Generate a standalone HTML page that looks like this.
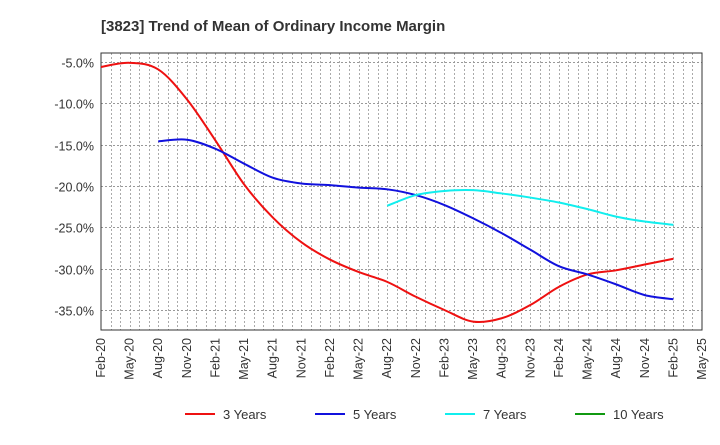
<!DOCTYPE html>
<html><head><meta charset="utf-8"><style>
body{margin:0;background:#fff;font-family:"Liberation Sans",Arial,sans-serif;}
svg text{font-family:"Liberation Sans",Arial,sans-serif;}
</style></head><body>
<svg id="c" width="720" height="440" xmlns="http://www.w3.org/2000/svg">
<text x="101" y="31" font-size="15" font-weight="bold" fill="#333">[3823]  Trend of Mean of Ordinary Income Margin</text>
<g id="grid"></g>
<g id="axes"></g>
<g id="series"></g>
<g id="legend"></g>
</svg>
<script>
const xLabels=["Feb-20","May-20","Aug-20","Nov-20","Feb-21","May-21","Aug-21","Nov-21","Feb-22","May-22","Aug-22","Nov-22","Feb-23","May-23","Aug-23","Nov-23","Feb-24","May-24","Aug-24","Nov-24","Feb-25","May-25"];
const yTicks=[-5,-10,-15,-20,-25,-30,-35];
const s3=[-5.6,-5.1,-5.9,-9.5,-14.5,-19.8,-23.8,-26.8,-28.9,-30.4,-31.6,-33.4,-35.0,-36.4,-36.0,-34.4,-32.2,-30.7,-30.2,-29.5,-28.8];
const s5=[null,null,-14.6,-14.4,-15.5,-17.3,-19.0,-19.7,-19.9,-20.2,-20.4,-21.1,-22.3,-23.9,-25.7,-27.7,-29.7,-30.7,-31.9,-33.2,-33.7];
const s7=[null,null,null,null,null,null,null,null,null,null,-22.4,-21.1,-20.6,-20.5,-20.9,-21.4,-22.0,-22.8,-23.7,-24.3,-24.7];
const s10=[];
const L=101,R=702,T=53,B=330;
const X=i=>L+(R-L)*i/21;
const Y=v=>62+(v+5)*(-248/30);
const NS="http://www.w3.org/2000/svg";
function mk(t,a,p){const e=document.createElementNS(NS,t);for(const k in a)e.setAttribute(k,a[k]);p.appendChild(e);return e;}
const g=document.getElementById('grid'),ax=document.getElementById('axes'),se=document.getElementById('series'),lg=document.getElementById('legend');
for(let m=1;m<63;m++){const x=Math.round(L+(R-L)*m/63)+0.5;const l=mk('line',{x1:x,x2:x,y1:T,y2:B,stroke:'#aaa','stroke-dasharray':'2,2','stroke-width':1},g);

}
yTicks.forEach(v=>{const y=Math.round(Y(v))+0.5;const l=mk('line',{x1:L,x2:R,y1:y,y2:y,stroke:'#999','stroke-dasharray':'2,2'},g);


const t=mk('text',{x:L-7,y:y+5,'text-anchor':'end','font-size':12.5,fill:'#333'},ax);t.textContent=v.toFixed(1)+'%';

});
const fr=mk('rect',{x:L,y:T,width:R-L,height:B-T,fill:'none',stroke:'#333','stroke-width':1},ax);


xLabels.forEach((s,i)=>{const x=X(i);const t=mk('text',{x:0,y:0,'text-anchor':'end','font-size':12.5,fill:'#333',transform:`translate(${x+4},${B+8}) rotate(-90)`},ax);t.textContent=s;

});
function path(arr){const p=[];arr.forEach((v,i)=>{if(v!=null)p.push([X(i),Y(v)]);});if(!p.length)return'';let d=`M${p[0][0]},${p[0][1]}`;
for(let i=0;i<p.length-1;i++){const p0=p[i-1]||p[i],p1=p[i],p2=p[i+1],p3=p[i+2]||p2;
d+=` C${p1[0]+(p2[0]-p0[0])/6},${p1[1]+(p2[1]-p0[1])/6} ${p2[0]-(p3[0]-p1[0])/6},${p2[1]-(p3[1]-p1[1])/6} ${p2[0]},${p2[1]}`;}return d;}
const series=[[s3,'#ee1111','3 Years','series-3-years'],[s5,'#1111dd','5 Years','series-5-years'],[s7,'#11eeee','7 Years','series-7-years'],[s10,'#119911','10 Years','series-10-years']];
series.forEach(([a,c,n,dn],k)=>{const d=path(a);if(d){const p=mk('path',{d:d,fill:'none',stroke:c,'stroke-width':2},se);

}
const lx=185+k*130;const l=mk('line',{x1:lx,x2:lx+30,y1:414,y2:414,stroke:c,'stroke-width':2},lg);


const t=mk('text',{x:lx+38,y:419,'font-size':13,fill:'#333'},lg);t.textContent=n;

});
</script>
</body></html>
